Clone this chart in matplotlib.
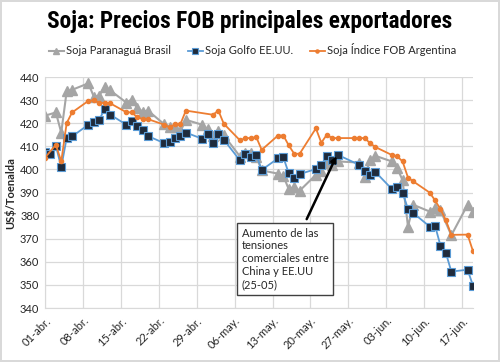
import numpy as np
import pandas as pd
import matplotlib
matplotlib.use('Agg')
import matplotlib.pyplot as plt
from matplotlib import font_manager

# Días desde 01-abr-2018
inicio = pd.Timestamp('2018-04-01')
dias = [0, 1, 2, 3, 4, 5, 8, 9, 10, 11, 12, 15, 16, 17, 18, 19,
        22, 23, 24, 25, 26, 29, 30, 31, 32, 33, 36, 37, 38, 39, 40,
        43, 44, 45, 46, 47, 50, 51, 52, 53, 54, 57, 58, 59, 60, 61,
        64, 65, 66, 67, 68, 71, 72, 73, 74, 75, 78, 79]

brasil = [423.3, None, 424.7, 416.0, 433.8, 434.5,
          437.3, 431.6, 431.9, 435.9, 434.3,
          429.0, 430.3, 426.7, 425.1, 425.5,
          419.6, 418.6, 418.3, 416.5, 421.5,
          419.4, 417.5, 414.5, 416.5, 414.8,
          405.6, 407.1, 407.1, 405.6, 399.6,
          398.2, 397.2, 391.4, 392.5, 390.8,
          397.7, 399.4, 402.8, 402.0, 403.5,
          None, 403.0, 396.7, 404.2, 405.9,
          403.5, 400.8, 395.3, 375.3, 384.7,
          381.8, 383.5, 382.3, None, 371.5,
          384.7, 381.7]

golfo = [407.6, 406.7, 410.3, 401.0, 413.6, 414.3,
         419.4, 420.4, 421.5, 426.1, 423.8,
         419.4, 420.8, 419.0, 417.2, 414.5,
         411.4, 411.9, 413.6, 414.3, 416.0,
         413.3, 415.3, 411.4, 415.5, 412.9,
         403.9, 406.7, 405.2, 406.4, 399.8,
         404.8, 405.2, 398.3, 396.4, 398.0,
         400.2, 401.9, 405.8, 404.2, 406.4,
         None, 402.0, 399.4, 397.7, 398.9,
         391.6, 392.4, 390.0, 382.9, 381.1,
         375.3, 375.6, 367.0, 363.8, 355.8,
         356.6, 349.7]

argentina = [405.1, None, 410.7, 403.5, 420.1, 424.7,
             429.7, 429.9, 429.0, 428.7, 428.7,
             424.8, 424.7, 422.7, 421.8, 421.8,
             419.4, 418.2, 419.7, 419.7, 425.5,
             None, None, 423.7, 425.5, 419.8,
             412.6, 413.6, 413.6, 414.0, 408.5,
             414.7, 414.7, 410.4, 406.8, 406.8,
             417.8, 411.6, 415.0, 413.6, 413.6,
             413.6, 413.6, 413.6, 411.4, 409.7,
             406.3, 405.7, 403.5, 396.5, 394.8,
             390.0, 386.6, 382.8, 378.0, 371.7,
             371.8, 364.6]

etiquetas_x = ['01-abr.', '08-abr.', '15-abr.', '22-abr.', '29-abr.', '06-may.',
               '13-may.', '20-may.', '27-may.', '03-jun.', '10-jun.', '17-jun.']

fechas = inicio + pd.to_timedelta(dias, unit='D')
ticks = inicio + pd.to_timedelta(np.arange(len(etiquetas_x)) * 7, unit='D')

fuente = 'Lato'

# fuente estrecha para el título, si hay alguna
nombres = {f.name for f in font_manager.fontManager.ttflist}
titulo_fuente, titulo_size, titulo_stretch = 'Roboto', 15, 'normal'
for cand in ['Liberation Sans Narrow', 'DejaVu Sans Condensed', 'Roboto Condensed',
             'Open Sans Condensed', 'Noto Sans Condensed']:
    if cand in nombres:
        titulo_fuente, titulo_size = cand, 16.8
        break
else:
    condensadas = [f for f in font_manager.fontManager.ttflist
                   if f.name == 'DejaVu Sans' and 'ondensed' in f.fname and f.weight == 700]
    if condensadas:
        titulo_fuente, titulo_size, titulo_stretch = 'DejaVu Sans', 16, 'condensed'

fig = plt.figure(figsize=(5, 3.62), dpi=100)
fig.patch.set_edgecolor('#d9d9d9')
fig.patch.set_linewidth(1.5)
ax = fig.add_axes([0.09, 0.149, 0.856, 0.638])


def serie(valores):
    y = np.array([np.nan if v is None else v for v in valores], dtype=float)
    ok = ~np.isnan(y)
    return fechas[ok], y[ok]


x, y = serie(brasil)
ax.plot(x, y, color='#a5a5a5', lw=1.5, marker='^', ms=6.5, mfc='#a5a5a5',
        mec='#a5a5a5', label='Soja Paranaguá Brasil')
x, y = serie(golfo)
ax.plot(x, y, color='#5b9bd5', lw=1.3, marker='s', ms=5.5, mfc='#1f2b3c',
        mec='#5b9bd5', mew=0.8, label='Soja Golfo EE.UU.')
x, y = serie(argentina)
ax.plot(x, y, color='#ed7d31', lw=1.3, marker='o', ms=3, mfc='#ed7d31',
        mec='#ed7d31', label='Soja Índice FOB Argentina')

ax.set_ylim(340, 440)
ax.set_yticks(np.arange(340, 441, 10))
ax.set_xlim(fechas[0], fechas[-1])
ax.set_xticks(ticks)
ax.set_xticklabels(etiquetas_x, rotation=45, ha='right', rotation_mode='anchor',
                   fontsize=8, family=fuente)
for t in ax.get_yticklabels():
    t.set_family(fuente)
    t.set_fontsize(8)
ax.tick_params(length=0, pad=4, colors='#262626')
ax.tick_params(axis='x', pad=5)
ax.grid(True, color='#d9d9d9', lw=0.9)
ax.set_axisbelow(True)
for s in ['top', 'right']:
    ax.spines[s].set_visible(False)
for s in ['left', 'bottom']:
    ax.spines[s].set_color('#d9d9d9')

ax.set_ylabel('US$/Toenalda', fontsize=8, family=fuente, fontweight='bold',
              color='#262626', labelpad=3)

fig.text(0.5, 0.94, 'Soja: Precios FOB principales exportadores', ha='center',
         va='center', fontsize=titulo_size, fontweight='bold',
         family=titulo_fuente, fontstretch=titulo_stretch)

leg = fig.legend(loc='center', bbox_to_anchor=(0.505, 0.862), ncol=3, frameon=False,
                 prop={'family': fuente, 'size': 8}, handlelength=1.35,
                 handletextpad=0.2, columnspacing=1.5, markerscale=0.75)
for t in leg.get_texts():
    t.set_color('#262626')

# Anotación
ax.annotate('', xy=(inicio + pd.Timedelta(days=53.8), 405.8),
            xytext=(inicio + pd.Timedelta(days=48.3), 378.5),
            arrowprops=dict(arrowstyle='-|>', color='black', lw=1.8,
                            mutation_scale=8, shrinkA=0, shrinkB=0))
ax.text(inicio + pd.Timedelta(days=36.3), 374.8,
        'Aumento de las\ntensiones\ncomerciales entre\nChina y EE.UU\n(25-05)',
        ha='left', va='top', fontsize=8, family=fuente, linespacing=1.2,
        color='#262626',
        bbox=dict(boxstyle='square,pad=0.45', fc='white', ec='#404040', lw=1))

fig.savefig('out.png', dpi=100)
